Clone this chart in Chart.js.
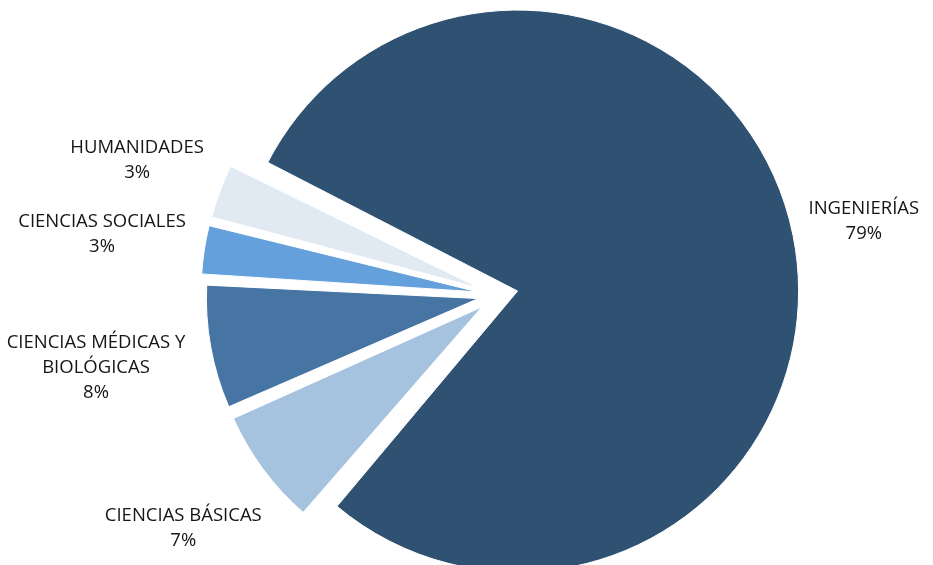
<!DOCTYPE html>
<html>
<head>
<meta charset="utf-8">
<script src="https://cdn.jsdelivr.net/npm/chart.js@4"></script>
<style>
    body { margin: 0; background: #fff; }
    #wrap { width: 933px; height: 565px; position: relative; }
</style>
</head>
<body>
<div id="wrap"><canvas id="myChart"></canvas></div>
<script>
// slices in clockwise order, starting with the big one
var labels = [
    ['INGENIERÍAS'],
    ['CIENCIAS BÁSICAS'],
    ['CIENCIAS MÉDICAS Y', 'BIOLÓGICAS'],
    ['CIENCIAS SOCIALES'],
    ['HUMANIDADES']
]
// shares (%), labels show them rounded
var datab = [78.9, 7.1, 7.5, 3.1, 3.4]
var colors = ['#2f5273', '#a5c2de', '#4675a3', '#64a0dc', '#e1e9f3']

var total = datab.reduce((a, b) => a + b, 0)

////----- labels outside each slice
var outsideLabels = {
    id: 'outsideLabels',
    afterDraw: function (chart) {
        var ctx = chart.ctx
        var meta = chart.getDatasetMeta(0)
        var lineH = 25
        ctx.save()
        ctx.font = '18.5px "Open Sans"'
        ctx.fillStyle = '#151515'
        ctx.textAlign = 'center'
        ctx.textBaseline = 'middle'
        meta.data.forEach((arc, i) => {
            var p = arc.getProps(['x', 'y', 'startAngle', 'endAngle', 'outerRadius'], true)
            var mid = (p.startAngle + p.endAngle) / 2
            var lines = labels[i].concat([Math.round(datab[i] / total * 100) + '%'])
            var w = 0
            lines.forEach(l => { w = Math.max(w, ctx.measureText(l).width) })
            var h = lines.length * lineH
            var c = Math.cos(mid), s = Math.sin(mid)
            var dist = p.outerRadius + 53 + Math.abs(c) * w / 2 + Math.abs(s) * h / 2
            var cx = p.x + c * dist
            var cy = p.y + s * dist
            lines.forEach((l, k) => {
                ctx.fillText(l, cx, cy - h / 2 + lineH / 2 + k * lineH)
            })
        })
        ctx.restore()
    }
}

var ctx = document.getElementById('myChart').getContext('2d');
var myChart = new Chart(ctx, {
    type: 'pie',
    data: {
        labels: labels,
        datasets: [{
            data: datab,
            backgroundColor: colors,
            borderColor: '#ffffff',
            borderWidth: 1,
            offset: 80 // pulls every slice out ~20px
        }]
    },
    options: {
        responsive: true,
        maintainAspectRatio: false,
        animation: false,
        rotation: 296.6,
        radius: 261,
        layout: {
            padding: { left: 63, right: 0, top: 25, bottom: 0 }
        },
        plugins: {
            legend: { display: false },
            tooltip: { enabled: false }
        }
    },
    plugins: [outsideLabels]
});
</script>
</body>
</html>
